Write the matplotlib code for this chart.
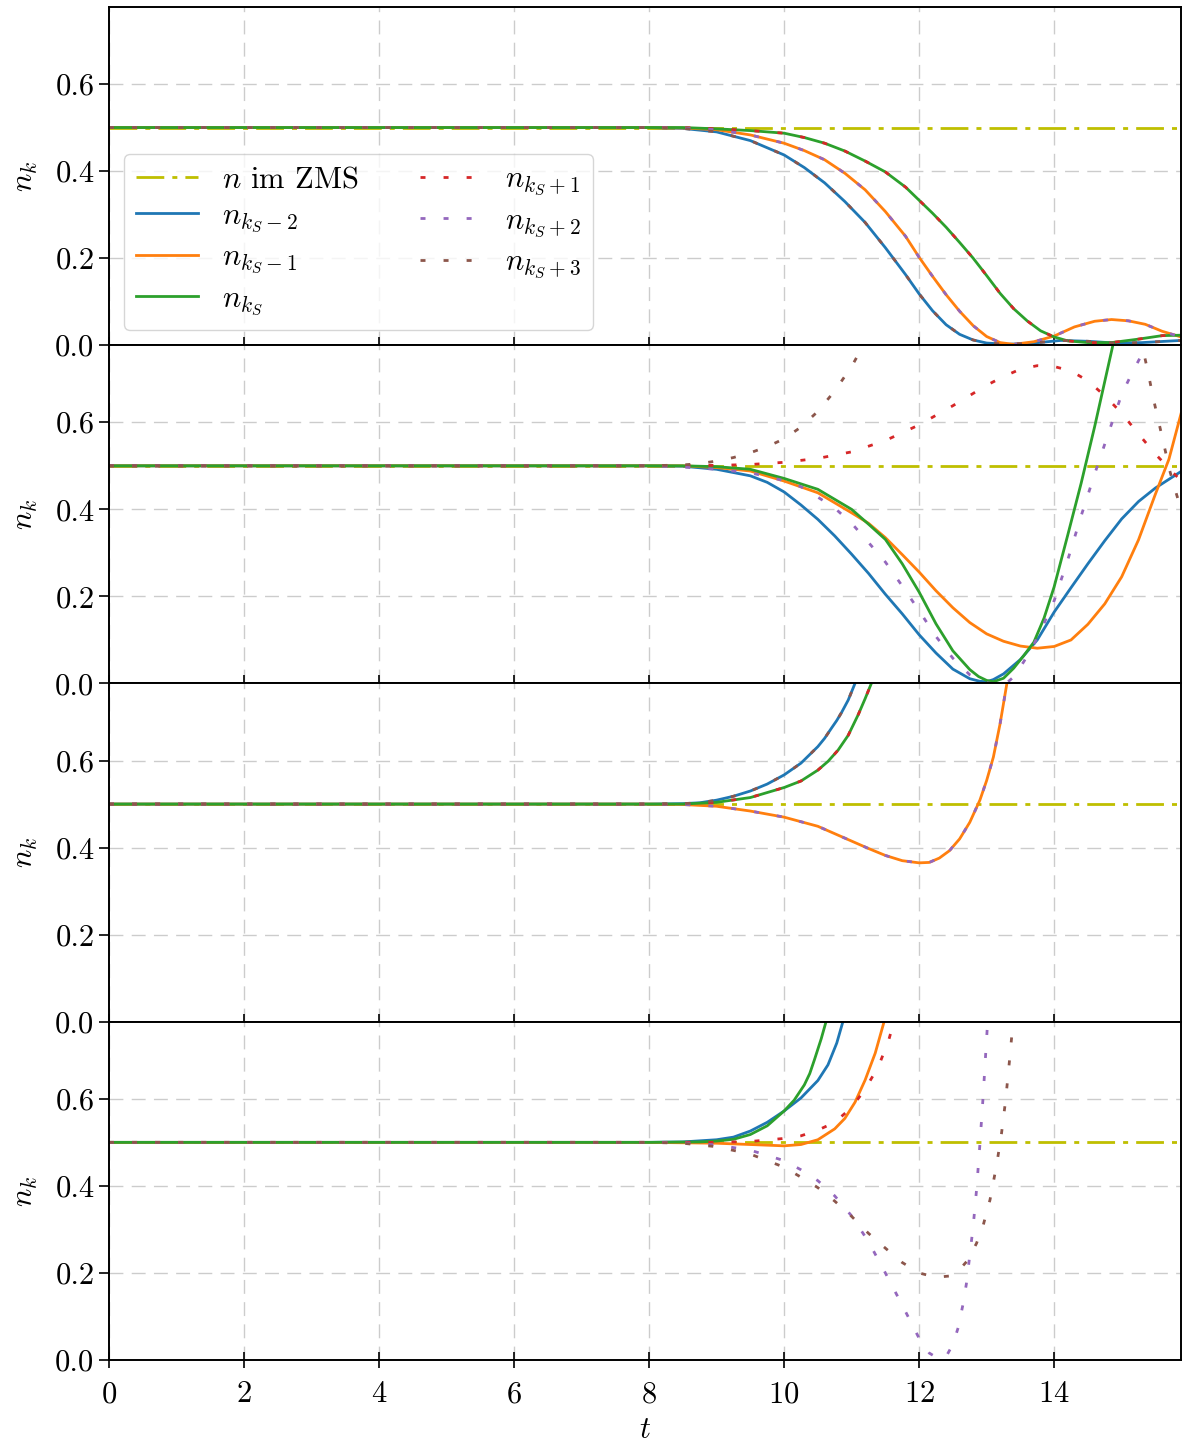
import numpy as np
import matplotlib.pyplot as plt
from matplotlib.ticker import FormatStrFormatter

plt.rcParams.update({
    'font.family': 'serif',
    'font.serif': ['cmr10'],
    'mathtext.fontset': 'cm',
    'axes.formatter.use_mathtext': True,
    'axes.unicode_minus': False,
    'font.size': 22,
    'lines.scale_dashes': False,
    'axes.linewidth': 1.4,
})

T_END = 15.88

# mean occupation in ZMS (constant)
zms_t = [0.0, T_END]
zms_n = [0.5, 0.5]

# ---- panel 1 ----
p1_t_m2 = [0, 8.0, 8.5, 9.0, 9.5, 10.0, 10.3, 10.6, 10.9, 11.2, 11.5, 11.8, 12.0, 12.2, 12.4, 12.6,
           12.8, 13.0, 13.3, 13.7, 14.1, 14.5, 14.9, 15.3, T_END]
p1_m2 = [0.5, 0.5, 0.498, 0.49, 0.47, 0.437, 0.408, 0.373, 0.33, 0.282, 0.224, 0.162, 0.118, 0.079,
         0.047, 0.025, 0.012, 0.005, 0.002, 0.005, 0.011, 0.009, 0.005, 0.006, 0.011]
p1_t_m1 = [0, 8.0, 8.5, 9.0, 9.5, 10.0, 10.3, 10.6, 10.9, 11.2, 11.5, 11.8, 12.0, 12.2, 12.4, 12.6,
           12.8, 13.0, 13.2, 13.4, 13.7, 14.0, 14.3, 14.6, 14.85, 15.1, 15.35, 15.6, T_END]
p1_m1 = [0.5, 0.5, 0.499, 0.495, 0.483, 0.464, 0.447, 0.426, 0.395, 0.357, 0.307, 0.25, 0.202, 0.158,
         0.116, 0.078, 0.045, 0.02, 0.006, 0.002, 0.008, 0.021, 0.042, 0.055, 0.059, 0.056, 0.048,
         0.032, 0.019]
p1_t_0 = [0, 8.0, 8.5, 9.0, 9.5, 10.0, 10.3, 10.6, 10.9, 11.2, 11.5, 11.8, 12.0, 12.2, 12.4, 12.6,
          12.8, 13.0, 13.2, 13.4, 13.6, 13.8, 14.0, 14.2, 14.5, 14.85, 15.25, 15.6, T_END]
p1_0 = [0.5, 0.5, 0.5, 0.497, 0.493, 0.487, 0.477, 0.464, 0.446, 0.423, 0.398, 0.363, 0.333, 0.303,
        0.271, 0.236, 0.2, 0.16, 0.119, 0.084, 0.056, 0.033, 0.019, 0.01, 0.006, 0.006, 0.014,
        0.022, 0.023]
# mirrored modes coincide in this panel
p1_t_p1, p1_p1 = p1_t_0, p1_0
p1_t_p2, p1_p2 = p1_t_m1, p1_m1
p1_t_p3, p1_p3 = p1_t_m2, p1_m2

# ---- panel 2 ----
p2_t_m2 = [0, 8.0, 8.5, 9.0, 9.5, 9.75, 10.0, 10.25, 10.5, 10.75, 11.0, 11.25, 11.5, 11.75, 12.0,
           12.25, 12.5, 12.75, 12.9, 13.0, 13.1, 13.25, 13.5, 13.75, 14.0, 14.25, 14.5, 14.75, 15.0,
           15.25, 15.5, T_END]
p2_m2 = [0.5, 0.5, 0.499, 0.492, 0.477, 0.462, 0.44, 0.41, 0.377, 0.339, 0.297, 0.253, 0.205, 0.16,
         0.112, 0.07, 0.033, 0.011, 0.005, 0.004, 0.009, 0.022, 0.055, 0.1, 0.164, 0.22, 0.275,
         0.328, 0.378, 0.418, 0.449, 0.487]
p2_t_m1 = [0, 8.0, 8.5, 9.0, 9.5, 10.0, 10.5, 11.0, 11.25, 11.5, 11.75, 12.0, 12.25, 12.5, 12.75,
           13.0, 13.25, 13.5, 13.75, 14.0, 14.25, 14.5, 14.75, 15.0, 15.25, 15.5, 15.7, T_END]
p2_m1 = [0.5, 0.5, 0.5, 0.496, 0.488, 0.465, 0.438, 0.392, 0.368, 0.335, 0.296, 0.256, 0.213, 0.174,
         0.14, 0.114, 0.097, 0.086, 0.081, 0.085, 0.1, 0.136, 0.183, 0.245, 0.33, 0.435, 0.515, 0.62]
p2_t_0 = [0, 8.0, 8.5, 9.0, 9.5, 10.0, 10.5, 11.0, 11.25, 11.5, 11.75, 12.0, 12.25, 12.5, 12.75,
          12.88, 13.0, 13.1, 13.25, 13.4, 13.55, 13.7, 13.85, 14.0, 14.2, 14.4, 14.6, 14.87, 15.0]
p2_0 = [0.5, 0.5, 0.5, 0.498, 0.492, 0.471, 0.446, 0.4, 0.366, 0.331, 0.275, 0.21, 0.137, 0.075,
        0.032, 0.016, 0.007, 0.004, 0.012, 0.035, 0.064, 0.095, 0.15, 0.222, 0.34, 0.46, 0.59,
        0.777, 0.86]
p2_t_p1 = [0, 8.0, 9.0, 9.5, 10.0, 10.5, 11.0, 11.5, 12.0, 12.5, 13.0, 13.25, 13.5, 13.75, 14.0,
           14.25, 14.5, 14.75, 15.0, 15.25, 15.5, 15.75, T_END]
p2_p1 = [0.5, 0.5, 0.501, 0.503, 0.508, 0.517, 0.532, 0.558, 0.594, 0.638, 0.685, 0.705, 0.722,
         0.73, 0.728, 0.718, 0.695, 0.661, 0.621, 0.573, 0.527, 0.486, 0.466]
p2_t_p2 = [0, 8.0, 8.5, 9.0, 9.5, 10.0, 10.25, 10.5, 10.75, 11.0, 11.25, 11.5, 11.75, 12.0, 12.25,
           12.5, 12.75, 13.0, 13.25, 13.4, 13.55, 13.7, 13.85, 14.0, 14.2, 14.4, 14.6, 14.8, 15.0,
           15.15, 15.32, 15.45, 15.6, T_END]
p2_p2 = [0.5, 0.5, 0.497, 0.492, 0.484, 0.466, 0.452, 0.428, 0.403, 0.368, 0.324, 0.279, 0.224,
         0.167, 0.108, 0.058, 0.02, 0.002, -0.005, 0.015, 0.05, 0.09, 0.138, 0.19, 0.283, 0.385,
         0.481, 0.573, 0.664, 0.712, 0.762, 0.8, 0.85, 0.9]
p2_t_p3 = [0, 8.0, 8.5, 8.75, 9.0, 9.25, 9.5, 9.75, 10.0, 10.25, 10.5, 10.75, 11.0, 11.15, 11.3,
           13.0, 15.2, 15.32, 15.4, 15.47, 15.55, 15.63, 15.71, 15.81, T_END]
p2_p3 = [0.5, 0.5, 0.502, 0.505, 0.511, 0.519, 0.53, 0.544, 0.562, 0.589, 0.625, 0.672, 0.728, 0.77,
         0.82, np.nan, 0.85, 0.765, 0.708, 0.654, 0.6, 0.546, 0.49, 0.436, 0.4]

# ---- panel 3 ----
p3_t_m2 = [0, 8.0, 8.5, 8.75, 9.0, 9.25, 9.5, 9.75, 10.0, 10.25, 10.5, 10.6, 10.7, 10.78, 10.85,
           10.95, 11.05, 11.15]
p3_m2 = [0.5, 0.5, 0.501, 0.503, 0.509, 0.518, 0.53, 0.546, 0.567, 0.594, 0.632, 0.651, 0.674,
         0.692, 0.71, 0.739, 0.777, 0.82]
p3_t_m1 = [0, 8.0, 8.5, 9.0, 9.5, 10.0, 10.5, 11.0, 11.25, 11.5, 11.75, 12.0, 12.15, 12.3, 12.45,
           12.6, 12.75, 12.9, 13.0, 13.1, 13.2, 13.3, 13.4]
p3_m1 = [0.5, 0.5, 0.499, 0.495, 0.484, 0.47, 0.449, 0.415, 0.398, 0.382, 0.37, 0.365, 0.366, 0.376,
         0.393, 0.42, 0.458, 0.509, 0.554, 0.608, 0.685, 0.777, 0.88]
p3_t_0 = [0, 8.0, 8.5, 9.0, 9.5, 10.0, 10.25, 10.5, 10.65, 10.8, 10.95, 11.1, 11.2, 11.3, 11.4]
p3_0 = [0.5, 0.5, 0.5, 0.504, 0.515, 0.538, 0.553, 0.578, 0.598, 0.624, 0.658, 0.706, 0.742, 0.78, 0.83]
p3_t_p1, p3_p1 = p3_t_0, p3_0
p3_t_p2, p3_p2 = p3_t_m1, p3_m1
p3_t_p3, p3_p3 = p3_t_m2, p3_m2

# ---- panel 4 ----
p4_t_m2 = [0, 8.0, 8.5, 9.0, 9.25, 9.5, 9.75, 10.0, 10.25, 10.5, 10.65, 10.78, 10.88, 10.95]
p4_m2 = [0.5, 0.5, 0.501, 0.506, 0.512, 0.526, 0.546, 0.572, 0.602, 0.642, 0.678, 0.728, 0.782, 0.82]
p4_t_m1 = [0, 8.0, 9.0, 9.5, 10.0, 10.25, 10.5, 10.75, 10.9, 11.05, 11.2, 11.35, 11.49, 11.55]
p4_m1 = [0.5, 0.5, 0.498, 0.495, 0.492, 0.495, 0.506, 0.531, 0.555, 0.592, 0.643, 0.705, 0.782, 0.82]
p4_t_0 = [0, 8.0, 8.75, 9.0, 9.25, 9.5, 9.75, 10.0, 10.15, 10.3, 10.38, 10.45, 10.55, 10.63, 10.7]
p4_0 = [0.5, 0.5, 0.501, 0.503, 0.507, 0.518, 0.538, 0.572, 0.597, 0.632, 0.658, 0.69, 0.738, 0.782, 0.83]
p4_t_p1 = [0, 8.0, 9.0, 9.5, 10.0, 10.25, 10.5, 10.75, 11.0, 11.2, 11.4, 11.55, 11.65, 11.75]
p4_p1 = [0.5, 0.5, 0.5, 0.502, 0.509, 0.515, 0.528, 0.546, 0.58, 0.622, 0.675, 0.735, 0.79, 0.85]
p4_t_p2 = [0, 8.0, 8.5, 9.0, 9.5, 10.0, 10.25, 10.5, 10.75, 11.0, 11.25, 11.5, 11.75, 12.0, 12.15,
           12.3, 12.4, 12.5, 12.58, 12.65, 12.7, 12.75, 12.8, 12.85, 12.9, 12.95, 13.0, 13.05]
p4_p2 = [0.5, 0.5, 0.499, 0.494, 0.482, 0.458, 0.437, 0.412, 0.377, 0.331, 0.272, 0.2, 0.126, 0.05,
         0.016, 0.002, 0.008, 0.036, 0.075, 0.128, 0.175, 0.24, 0.306, 0.39, 0.495, 0.61, 0.74, 0.86]
p4_t_p3 = [0, 8.0, 8.5, 9.0, 9.5, 10.0, 10.25, 10.5, 10.75, 11.0, 11.25, 11.5, 11.75, 12.0, 12.25,
           12.45, 12.6, 12.72, 12.85, 12.95, 13.05, 13.15, 13.22, 13.28, 13.34, 13.39, 13.45]
p4_p3 = [0.5, 0.5, 0.498, 0.49, 0.473, 0.443, 0.42, 0.396, 0.365, 0.33, 0.291, 0.257, 0.224, 0.2,
         0.19, 0.193, 0.208, 0.229, 0.268, 0.31, 0.368, 0.45, 0.52, 0.595, 0.69, 0.774, 0.86]

panels = [
    [(p1_t_m2, p1_m2), (p1_t_m1, p1_m1), (p1_t_0, p1_0), (p1_t_p1, p1_p1), (p1_t_p2, p1_p2), (p1_t_p3, p1_p3)],
    [(p2_t_m2, p2_m2), (p2_t_m1, p2_m1), (p2_t_0, p2_0), (p2_t_p1, p2_p1), (p2_t_p2, p2_p2), (p2_t_p3, p2_p3)],
    [(p3_t_m2, p3_m2), (p3_t_m1, p3_m1), (p3_t_0, p3_0), (p3_t_p1, p3_p1), (p3_t_p2, p3_p2), (p3_t_p3, p3_p3)],
    [(p4_t_m2, p4_m2), (p4_t_m1, p4_m1), (p4_t_0, p4_0), (p4_t_p1, p4_p1), (p4_t_p2, p4_p2), (p4_t_p3, p4_p3)],
]

labels = [r'$n_{k_S-2}$', r'$n_{k_S-1}$', r'$n_{k_S}$', r'$n_{k_S+1}$', r'$n_{k_S+2}$', r'$n_{k_S+3}$']
colors = ['#1f77b4', '#ff7f0e', '#2ca02c', '#d62728', '#9467bd', '#8c564b']
dotted = (0, (3.6, 13.0))
styles = ['-', '-', '-', dotted, dotted, dotted]

fig, axes = plt.subplots(4, 1, sharex=True, figsize=(11.87, 14.45), dpi=100)
fig.subplots_adjust(left=0.0918, right=0.995, top=0.9952, bottom=0.0588, hspace=0)

for ax, series in zip(axes, panels):
    ax.plot(zms_t, zms_n, color='y', lw=2.0, linestyle=(0, (20, 5.8, 3.6, 5.8)),
            label=r'$n$ im ZMS')
    for (t, n), lab, c, ls in zip(series, labels, colors, styles):
        lw = 2.0 if ls == '-' else 2.0
        ax.plot(t, n, color=c, lw=lw, linestyle=ls, label=lab, dash_capstyle='butt')
    ax.set_ylim(0, 0.777)
    ax.set_xlim(0, T_END)
    ax.set_yticks([0.0, 0.2, 0.4, 0.6])
    ax.yaxis.set_major_formatter(FormatStrFormatter('%.1f'))
    ax.grid(True, color='#cccccc', lw=1.0, linestyle=(0, (10, 6)))
    ax.set_ylabel(r'$n_k$', labelpad=11)
    ax.tick_params(axis='y', direction='out', length=7, width=1.2)
    ax.tick_params(axis='x', direction='inout', length=12, width=1.2, pad=9)

axes[-1].set_xticks([0, 2, 4, 6, 8, 10, 12, 14])
axes[-1].set_xlabel(r'$t$', labelpad=6)
axes[0].legend(loc='lower left', ncol=2, framealpha=0.8, edgecolor='#cccccc', labelspacing=0.3)

fig.savefig('out.png', dpi=100)
